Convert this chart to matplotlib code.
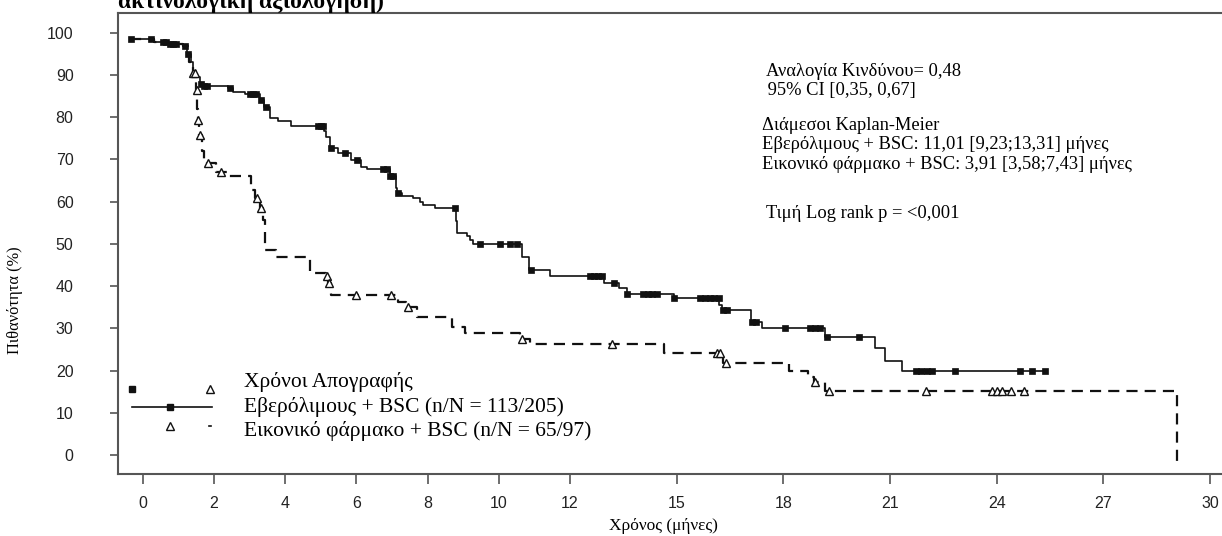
import numpy as np
import matplotlib
matplotlib.use("Agg")
import matplotlib.pyplot as plt

# Kaplan-Meier: Εβερόλιμους + BSC (solid) vs Εικονικό φάρμακο + BSC (dashed)
evero_t = [-0.35, 0.30, 0.70, 1.13, 1.25, 1.35, 1.42, 1.50, 1.60, 1.70, 2.40, 2.53,
           2.86, 3.30, 3.40, 3.57, 3.80, 4.16, 5.10, 5.15, 5.26, 5.49, 5.85, 6.13,
           6.30, 6.95, 7.10, 7.15, 7.28, 7.59, 7.79, 7.88, 8.21, 8.80, 8.84, 9.11,
           9.20, 9.29, 10.65, 10.85, 11.45, 12.95, 13.37, 13.61, 14.92, 16.20, 16.28,
           17.10, 17.40, 19.18, 20.59, 20.87, 21.34, 25.37]
evero_s = [98.5, 97.9, 97.4, 96.8, 95.0, 93.0, 91.0, 89.5, 88.0, 87.4, 86.9, 86.1,
           85.5, 84.0, 82.5, 79.8, 79.1, 78.0, 76.8, 75.4, 72.7, 71.5, 69.9, 68.3,
           67.8, 66.0, 63.2, 62.1, 61.4, 60.8, 60.0, 59.2, 58.5, 55.5, 52.5, 51.9,
           51.0, 49.9, 47.0, 43.8, 42.4, 40.7, 39.5, 38.2, 37.1, 35.5, 34.4,
           31.5, 30.0, 28.0, 25.3, 22.3, 20.0, 20.0]
evero_cens = [-0.34, 0.23, 0.56, 0.65, 0.76, 0.85, 0.93, 1.18, 1.28, 1.63, 1.72, 1.80,
              2.44, 3.01, 3.10, 3.18, 3.32, 3.45, 4.92, 5.00, 5.06, 5.29, 5.68, 6.02,
              6.75, 6.85, 6.95, 7.03, 7.17, 8.78, 9.48, 10.04, 10.32, 10.51, 10.90,
              12.57, 12.68, 12.79, 12.90, 13.23, 13.61, 14.06, 14.19, 14.32, 14.46,
              14.92, 15.67, 15.80, 15.93, 16.06, 16.18, 16.30, 16.42, 17.12, 17.24,
              18.06, 18.76, 18.90, 19.04, 19.22, 20.12, 21.72, 21.88, 22.04, 22.19,
              22.84, 24.65, 25.00, 25.37]

plac_t = [-0.35, 0.30, 0.70, 1.13, 1.30, 1.40, 1.50, 1.52, 1.55, 1.58, 1.65, 1.72,
          1.80, 2.05, 2.40, 3.05, 3.15, 3.28, 3.37, 3.42, 3.75, 4.69, 5.15, 5.20,
          5.29, 7.17, 7.40, 7.70, 8.68, 9.06, 10.60, 10.89, 14.64, 16.31, 18.15,
          18.70, 18.85, 19.18, 29.08]
plac_s = [98.5, 97.9, 97.4, 96.8, 93.0, 90.5, 86.5, 82.0, 79.4, 75.8, 72.0, 69.9,
          69.1, 67.1, 66.1, 62.8, 60.8, 58.4, 55.7, 48.6, 47.0, 43.0, 42.3, 40.7,
          37.9, 36.3, 35.1, 32.8, 30.4, 29.0, 27.5, 26.3, 24.2, 21.9, 20.0,
          18.5, 17.4, 15.2, -2.0]
plac_cens = [1.42, 1.47, 1.51, 1.56, 1.60, 1.82, 2.20, 3.20, 3.31, 5.17, 5.24, 6.00,
             6.98, 7.46, 10.65, 13.18, 16.13, 16.22, 16.40, 18.90, 19.28, 22.00,
             23.88, 24.02, 24.16, 24.40, 24.76]

xticks = [0, 2, 4, 6, 8, 10, 12, 15, 18, 21, 24, 27, 30]
yticks = [0, 10, 20, 30, 40, 50, 60, 70, 80, 90, 100]

stats_lines = ["Αναλογία Κινδύνου= 0,48",
               " 95% CI [0,35, 0,67]",
               "Διάμεσοι Kaplan-Meier",
               "Εβερόλιμους + BSC: 11,01 [9,23;13,31] μήνες",
               "Εικονικό φάρμακο + BSC: 3,91 [3,58;7,43] μήνες",
               "Τιμή Log rank p = <0,001"]
legend_lines = ["Χρόνοι Απογραφής",
                "Εβερόλιμους + BSC (n/N = 113/205)",
                "Εικονικό φάρμακο + BSC (n/N = 65/97)"]

W, H = 1222, 536
SERIF = "Liberation Serif"
SANS = "Liberation Sans"

fig = plt.figure(figsize=(W / 100, H / 100), dpi=100)
ax = fig.add_axes([118 / W, 62 / H, 1110 / W, 461 / H])


def fx(x):
    return x / W


def fy(y):
    return 1 - y / H


def at(t, ts, ss):
    # survival value of a step curve at time t
    i = np.searchsorted(ts, t, side="right") - 1
    return np.asarray(ss)[np.clip(i, 0, len(ss) - 1)]


ink = "#111111"
pl, = ax.step(plac_t, plac_s, where="post", color=ink, lw=1.6)
pl.set_dashes([5, 3.2])
ax.step(evero_t, evero_s, where="post", color=ink, lw=1.2)

ax.plot(plac_cens, at(plac_cens, plac_t, plac_s), ls="none", marker="^",
        ms=5.5, mfc="white", mec=ink, mew=1.0)
ax.plot(evero_cens, at(evero_cens, evero_t, evero_s), ls="none", marker="s",
        ms=5, mfc=ink, mec=ink, mew=0.5)

ax.set_xlim(-0.70, 30.5)
ax.set_ylim(-4.5, 104.7)
ax.set_xticks(xticks)
ax.set_yticks(yticks)
ax.set_xticklabels([str(v) for v in xticks], family=SANS, fontsize=11.5, color="#222")
ax.set_yticklabels([str(v) for v in yticks], family=SANS, fontsize=11.5, color="#222")
ax.tick_params(axis="y", direction="out", length=6, width=1.2, color="#555", pad=26)
ax.tick_params(axis="x", direction="out", length=7, width=1.2, color="#555", pad=9)
for side in ["left", "bottom", "top"]:
    ax.spines[side].set_color("#555")
    ax.spines[side].set_linewidth(1.5)
ax.spines["right"].set_visible(False)

fig.text(fx(663), fy(526), "Χρόνος (μήνες)", family=SERIF, fontsize=12.5,
         ha="center", va="center")
fig.text(fx(15), fy(300), "Πιθανότητα (%)", family=SERIF, fontsize=11.8,
         ha="center", va="center", rotation=90)

# title, cut off at the top edge in the source
fig.text(fx(118), fy(8), "ακτινολογική αξιολόγηση)", family=SERIF, fontsize=17,
         fontweight="bold", ha="left", va="baseline")

# statistics block
stat_pos = [(766, 72), (763, 90), (762, 125), (762, 145), (762, 165), (766, 214)]
for (x, y), s in zip(stat_pos, stats_lines):
    fig.text(fx(x), fy(y), s, family=SERIF, fontsize=13.3, ha="left", va="center")

# SAS-style legend
for y, s in zip([382, 407, 431], legend_lines):
    fig.text(fx(244), fy(y), s, family=SERIF, fontsize=15.5, ha="left", va="center")
ax.plot([fx(132)], [fy(389)], transform=fig.transFigure, marker="s", ms=4.5,
        color=ink, clip_on=False)
ax.plot([fx(210)], [fy(389)], transform=fig.transFigure, marker="^", ms=5.5,
        mfc="white", mec=ink, clip_on=False)
ax.plot([fx(132), fx(212)], [fy(407), fy(407)], transform=fig.transFigure,
        color=ink, lw=1.2, clip_on=False)
ax.plot([fx(170)], [fy(407)], transform=fig.transFigure, marker="s", ms=4.5,
        color=ink, clip_on=False)
ax.plot([fx(170)], [fy(426)], transform=fig.transFigure, marker="^", ms=5.5,
        mfc="white", mec=ink, clip_on=False)
ax.plot([fx(209), fx(211)], [fy(426), fy(426)], transform=fig.transFigure,
        color=ink, lw=1.2, clip_on=False)

fig.savefig("out.png", dpi=100)
